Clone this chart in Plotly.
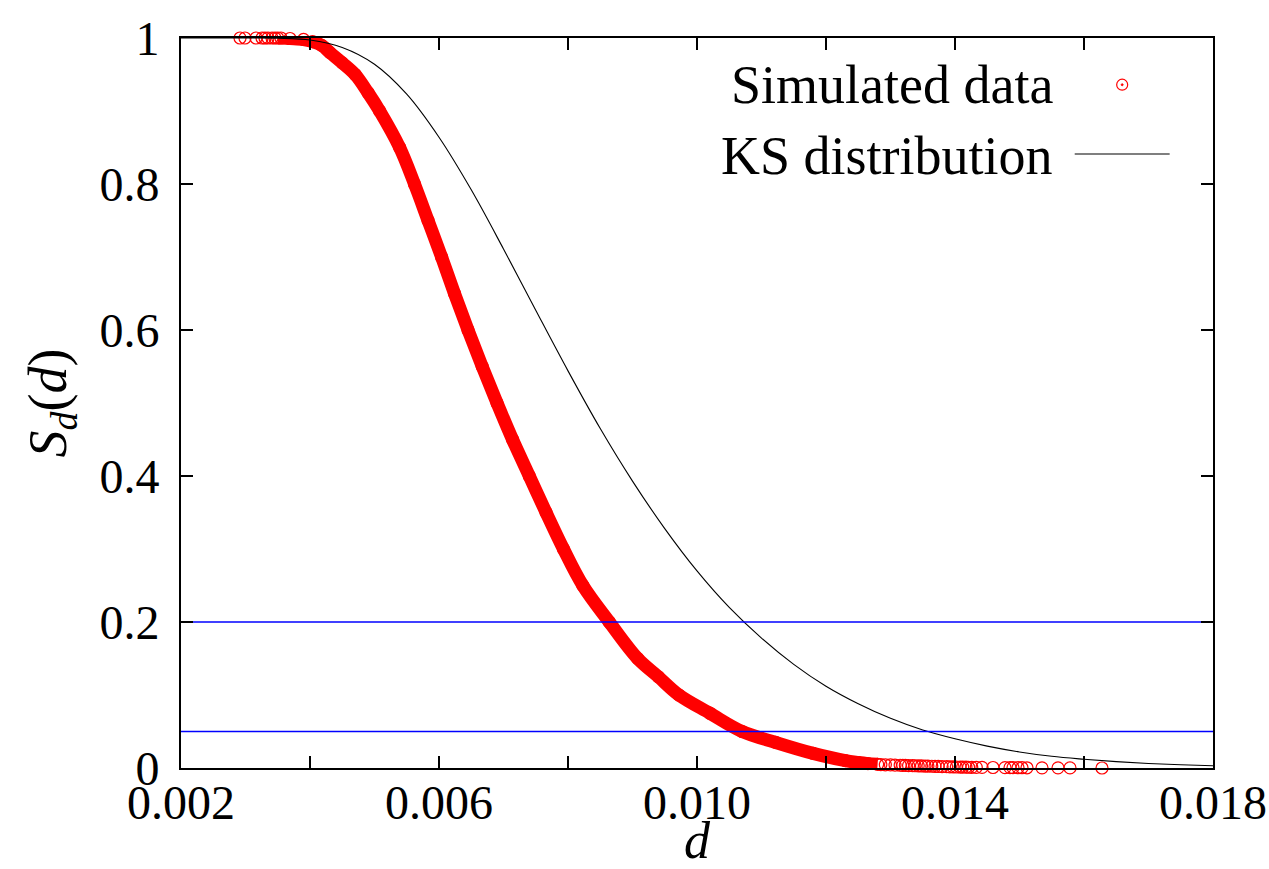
import plotly.graph_objects as go

# Simulated KS statistics: sorted d values and empirical survival S_d(d)
sim_d = [0.002915, 0.002992, 0.003163, 0.003256, 0.003302, 0.003349, 0.003411, 0.003457,
         0.00350, 0.00355, 0.00369, 0.00390, 0.00404, 0.00418, 0.00431, 0.00450,
         0.00470, 0.00490, 0.00508, 0.00539, 0.00562, 0.00583, 0.00604, 0.00624,
         0.00645, 0.00667, 0.00690, 0.00714, 0.00740, 0.00766, 0.00793, 0.00823,
         0.00864, 0.00908, 0.00940, 0.00972, 0.01020, 0.01070, 0.01122, 0.01180,
         0.01230, 0.01250, 0.01265, 0.01280,
         0.01285, 0.01292, 0.01300, 0.01307, 0.01315, 0.01319, 0.01323, 0.01328,
         0.01334, 0.01338, 0.01343, 0.01348, 0.013535, 0.01358, 0.01364, 0.01369,
         0.01374, 0.01380, 0.01387, 0.01392, 0.013969, 0.01402, 0.01408, 0.01412,
         0.01417, 0.01421, 0.01426, 0.01433, 0.014419, 0.014589, 0.014775,
         0.014853, 0.014899, 0.014977, 0.015039, 0.015116, 0.015349, 0.015597, 0.015783,
         0.016279]
sim_s = [1.0, 1.0, 1.0, 1.0, 1.0, 1.0, 1.0, 1.0,
         1.0, 1.0, 0.9993, 0.998, 0.995, 0.99, 0.98, 0.966,
         0.95, 0.925, 0.90, 0.85, 0.80, 0.75, 0.70, 0.65,
         0.60, 0.55, 0.50, 0.45, 0.40, 0.35, 0.30, 0.25,
         0.20, 0.15, 0.125, 0.10, 0.075, 0.05, 0.035, 0.02,
         0.01, 0.0075, 0.006, 0.005,
         0.0046, 0.0044, 0.0042, 0.0040, 0.0038, 0.0036, 0.0035, 0.0033,
         0.0032, 0.0031, 0.0030, 0.0028, 0.0027, 0.0025, 0.0024, 0.0022,
         0.0021, 0.0019, 0.0018, 0.0016, 0.0015, 0.0014, 0.0013, 0.0012,
         0.0011, 0.0010, 0.0009, 0.0009, 0.0008, 0.0007, 0.0006,
         0.0005, 0.0005, 0.0004, 0.0004, 0.0003, 0.0002, 0.0002, 0.0001,
         0.0]

# Kolmogorov-Smirnov survival function
ks_d = [0.002, 0.0025, 0.003, 0.0035, 0.004, 0.0045, 0.005, 0.0055, 0.006, 0.0065,
        0.007, 0.0075, 0.008, 0.0085, 0.009, 0.0095, 0.010, 0.0105, 0.011, 0.0115,
        0.012, 0.0125, 0.013, 0.0135, 0.014, 0.0145, 0.015, 0.0155, 0.016, 0.0165,
        0.017, 0.0175, 0.018]
ks_s = [1.0, 1.0, 1.0, 0.9997, 0.9972, 0.987, 0.964, 0.923, 0.864, 0.792,
        0.711, 0.627, 0.544, 0.465, 0.393, 0.328, 0.270, 0.220, 0.178, 0.142,
        0.112, 0.088, 0.068, 0.052, 0.040, 0.030, 0.022, 0.016, 0.012, 0.0087,
        0.0062, 0.0044, 0.0031]

# Significance levels
ref_levels = [0.2, 0.05]

x_ticks = [0.002, 0.004, 0.006, 0.008, 0.010, 0.012, 0.014, 0.016, 0.018]
x_labels = ["0.002", "", "0.006", "", "0.010", "", "0.014", "", "0.018"]
y_ticks = [0, 0.2, 0.4, 0.6, 0.8, 1.0]
y_labels = ["0", "0.2", "0.4", "0.6", "0.8", "1"]

RED = "#ff0000"
FONT = "'Liberation Serif', 'DejaVu Serif', serif"

fig = go.Figure()

# dense part of the simulated sample forms a solid band
band = [(d, s) for d, s in zip(sim_d, sim_s) if d >= 0.0035 and s >= 0.005]
fig.add_trace(go.Scatter(
    x=[p[0] for p in band], y=[p[1] for p in band], mode="lines",
    line=dict(color=RED, width=13, shape="spline", smoothing=1.0),
    showlegend=False, hoverinfo="skip"))

fig.add_trace(go.Scatter(
    x=sim_d, y=sim_s, mode="markers", name="Simulated data",
    marker=dict(symbol="circle-open", size=12, color=RED, line=dict(width=1.2, color=RED)),
    cliponaxis=False, showlegend=False))

fig.add_trace(go.Scatter(
    x=ks_d, y=ks_s, mode="lines", name="KS distribution",
    line=dict(color="black", width=1.1, shape="spline", smoothing=1.0),
    showlegend=False))

for lvl in ref_levels:
    fig.add_trace(go.Scatter(
        x=[x_ticks[0], x_ticks[-1]], y=[lvl, lvl], mode="lines",
        line=dict(color="#0000ff", width=1.4), showlegend=False, hoverinfo="skip"))

# key in the upper right: text followed by its sample
key_font = dict(family=FONT, size=54, color="black")
fig.add_annotation(xref="paper", yref="paper", x=0.847, y=0.936, text="Simulated data",
                   showarrow=False, xanchor="right", yanchor="middle", font=key_font)
fig.add_annotation(xref="paper", yref="paper", x=0.847, y=0.838, text="KS distribution",
                   showarrow=False, xanchor="right", yanchor="middle", font=key_font)
fig.add_shape(type="circle", xref="paper", yref="paper", xsizemode="pixel", ysizemode="pixel",
              xanchor=0.912, yanchor=0.936, x0=-5.5, x1=5.5, y0=-5.5, y1=5.5,
              line=dict(color=RED, width=1.2))
fig.add_shape(type="circle", xref="paper", yref="paper", xsizemode="pixel", ysizemode="pixel",
              xanchor=0.912, yanchor=0.936, x0=-1, x1=1, y0=-1, y1=1,
              line=dict(color=RED, width=0.8), fillcolor=RED)
fig.add_shape(type="line", xref="paper", yref="paper", x0=0.866, x1=0.958, y0=0.841, y1=0.841,
              line=dict(color="black", width=1.1))

axis_common = dict(
    showgrid=False, zeroline=False, showline=True, linecolor="black", linewidth=2,
    mirror="ticks", ticks="inside", ticklen=12, tickwidth=1.6, tickcolor="black",
    tickfont=dict(family=FONT, size=48, color="black"),
)

fig.update_xaxes(range=[0.002, 0.018], tickvals=x_ticks, ticktext=x_labels,
                 ticklabelstandoff=-9,
                 title=dict(text="<i>d</i>", font=dict(family=FONT, size=52, color="black"),
                            standoff=26),
                 **axis_common)
fig.update_yaxes(range=[0, 1], tickvals=y_ticks, ticktext=y_labels,
                 ticklabelstandoff=10,
                 title=dict(text="<i>S</i><sub><i>d</i></sub>(<i>d</i>)",
                            font=dict(family=FONT, size=54, color="black"), standoff=16),
                 **axis_common)

fig.update_layout(
    width=1269, height=869,
    margin=dict(l=181, r=56, t=38, b=101, autoexpand=False),
    plot_bgcolor="white", paper_bgcolor="white",
    showlegend=False,
)

fig.write_html("out.html")
